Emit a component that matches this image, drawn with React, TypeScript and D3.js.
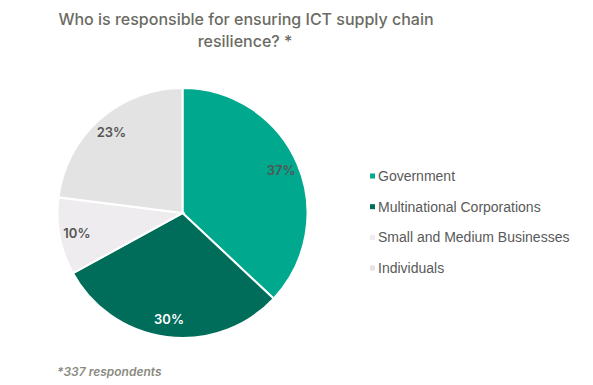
import React, { useEffect, useRef } from 'react';
import * as d3 from 'd3';

const categories = ['Government', 'Multinational Corporations', 'Small and Medium Businesses', 'Individuals'];
const shares = [37, 30, 10, 23];
const colors = ['#00A88E', '#006D5B', '#EEECEE', '#E3E3E3'];
const labelColors = ['#555555', '#ffffff', '#555555', '#555555'];

const App: React.FC = () => {
    const ref = useRef<SVGSVGElement>(null);

    useEffect(() => {
        const svg = d3.select(ref.current);
        svg.selectAll('*').remove();

        const cx = 182.5, cy = 213, r = 125;

        // Title
        const title = svg.append('text')
            .attr('text-anchor', 'middle')
            .attr('font-family', 'Inter, sans-serif')
            .attr('font-weight', 500)
            .attr('font-size', 16)
            .attr('fill', '#6B6B63');
        title.append('tspan').attr('x', 246).attr('y', 25).text('Who is responsible for ensuring ICT supply chain');
        title.append('tspan').attr('x', 245).attr('y', 47).text('resilience? *');

        const pie = d3.pie<number>().sort(null)(shares);
        const arc = d3.arc<d3.PieArcDatum<number>>().innerRadius(0).outerRadius(r);
        const labelArc = d3.arc<d3.PieArcDatum<number>>().innerRadius(r * 0.86).outerRadius(r * 0.86);

        const g = svg.append('g').attr('transform', `translate(${cx},${cy})`);
        g.selectAll('path')
            .data(pie)
            .enter()
            .append('path')
            .attr('d', arc)
            .attr('fill', (d, i) => colors[i])
            .attr('stroke', '#fff')
            .attr('stroke-width', 2);

        g.selectAll('text.lbl')
            .data(pie)
            .enter()
            .append('text')
            .attr('class', 'lbl')
            .attr('transform', d => `translate(${labelArc.centroid(d)})`)
            .attr('text-anchor', 'middle')
            .attr('dy', '0.35em')
            .attr('font-family', 'Inter, sans-serif')
            .attr('font-weight', 600)
            .attr('font-size', 13)
            .attr('fill', (d, i) => labelColors[i])
            .text(d => d.data + '%');

        // Legend
        const y = d3.scalePoint<string>().domain(categories).range([176, 268]);
        const leg = svg.append('g');
        leg.selectAll('rect')
            .data(categories)
            .enter()
            .append('rect')
            .attr('x', 370)
            .attr('y', d => y(d)! - 2.5)
            .attr('width', 5)
            .attr('height', 5)
            .attr('fill', (d, i) => colors[i]);
        leg.selectAll('text')
            .data(categories)
            .enter()
            .append('text')
            .attr('x', 378)
            .attr('y', d => y(d)!)
            .attr('dy', '0.35em')
            .attr('font-family', 'Liberation Sans, Arial, sans-serif')
            .attr('font-size', 14)
            .attr('fill', '#595959')
            .text(d => d);

        svg.append('text')
            .attr('x', 57)
            .attr('y', 376)
            .attr('font-family', 'Inter, sans-serif')
            .attr('font-style', 'italic')
            .attr('font-weight', 600)
            .attr('font-size', 12)
            .attr('fill', '#8A8A80')
            .text('*337 respondents');
    }, []);

    return (
        <svg ref={ref} width={593} height={385}
            style={{ position: 'absolute', left: 0, top: 0, background: '#fff' }} />
    );
};

export default App;
